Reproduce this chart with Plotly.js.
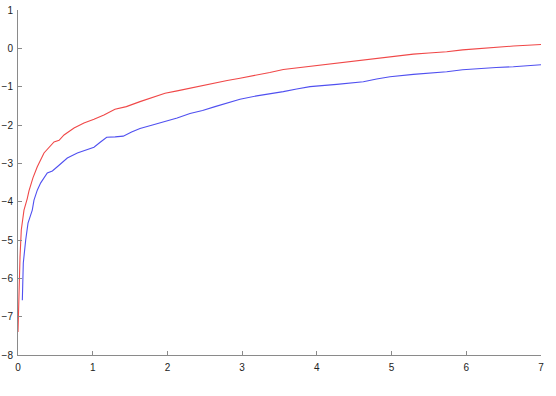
<!DOCTYPE html>
<html>
<head>
<meta charset="utf-8">
<script src="https://cdn.plot.ly/plotly-3.0.1.min.js"></script>
<style>html,body{margin:0;padding:0;background:#fff;}#chart{width:556px;height:396px;}</style>
</head>
<body>
<div id="chart"></div>
<script>
const redX = [0, 0.013, 0.027, 0.044, 0.08, 0.124, 0.147, 0.2, 0.258, 0.348, 0.482, 0.55, 0.616, 0.75, 0.883, 1.017, 1.15, 1.298, 1.45, 1.633, 1.8, 1.968, 2.13, 2.302, 2.47, 2.637, 2.8, 2.971, 3.195, 3.37, 3.551, 3.73, 3.909, 4.09, 4.266, 4.45, 4.622, 4.8, 4.979, 5.291, 5.5, 5.738, 5.95, 6.185, 6.4, 6.63, 6.82, 7.0];
const redY = [-7.40, -6.31, -5.44, -4.74, -4.22, -3.92, -3.72, -3.38, -3.09, -2.73, -2.44, -2.40, -2.26, -2.08, -1.95, -1.85, -1.74, -1.59, -1.52, -1.39, -1.29, -1.17, -1.11, -1.04, -0.96, -0.90, -0.84, -0.78, -0.70, -0.63, -0.55, -0.51, -0.46, -0.42, -0.37, -0.33, -0.30, -0.26, -0.22, -0.15, -0.12, -0.09, -0.04, 0.00, 0.03, 0.06, 0.08, 0.10];

const blueX = [0.058, 0.071, 0.103, 0.134, 0.191, 0.214, 0.258, 0.304, 0.392, 0.46, 0.526, 0.66, 0.794, 0.928, 1.017, 1.1, 1.187, 1.3, 1.409, 1.52, 1.633, 1.8, 1.968, 2.13, 2.302, 2.47, 2.637, 2.8, 2.971, 3.195, 3.37, 3.551, 3.73, 3.909, 4.266, 4.45, 4.622, 4.8, 4.979, 5.291, 5.5, 5.738, 5.95, 6.185, 6.4, 6.63, 7.0];
const blueY = [-6.57, -5.60, -5.00, -4.56, -4.22, -3.96, -3.70, -3.51, -3.25, -3.20, -3.09, -2.86, -2.73, -2.63, -2.58, -2.45, -2.32, -2.31, -2.29, -2.18, -2.09, -2.00, -1.91, -1.82, -1.70, -1.62, -1.52, -1.42, -1.33, -1.24, -1.19, -1.13, -1.06, -1.00, -0.94, -0.91, -0.87, -0.80, -0.74, -0.68, -0.65, -0.61, -0.56, -0.52, -0.50, -0.48, -0.43];

const xTicks = [0, 1, 2, 3, 4, 5, 6, 7];
const yTicks = [-8, -7, -6, -5, -4, -3, -2, -1, 0, 1];

const traces = [
  {x: redX, y: redY, type: 'scatter', mode: 'lines', line: {color: '#f04848', width: 1.1}, hoverinfo: 'none'},
  {x: blueX, y: blueY, type: 'scatter', mode: 'lines', line: {color: '#5050f0', width: 1.1}, hoverinfo: 'none'}
];

const axisCommon = {
  showgrid: false, zeroline: false, showline: true, linecolor: '#8a8a8a', linewidth: 1,
  ticks: 'inside', ticklen: 4, tickwidth: 1, tickcolor: '#8a8a8a',
  tickfont: {family: 'Liberation Sans, Arial, sans-serif', size: 10, color: '#222'},
  mirror: false
};

const layout = {
  width: 556, height: 396,
  margin: {l: 18, r: 15, t: 10, b: 41},
  paper_bgcolor: '#fff', plot_bgcolor: '#fff',
  showlegend: false,
  xaxis: Object.assign({}, axisCommon, {range: [0, 7], tickvals: xTicks, ticktext: xTicks.map(String), ticklabelstandoff: 3}),
  yaxis: Object.assign({}, axisCommon, {range: [-8, 1], tickvals: yTicks, ticktext: yTicks.map(v => v < 0 ? '\u2212' + Math.abs(v) : String(v)), ticklabelstandoff: 2})
};

Plotly.newPlot('chart', traces, layout, {displayModeBar: false, staticPlot: true});
</script>
</body>
</html>
